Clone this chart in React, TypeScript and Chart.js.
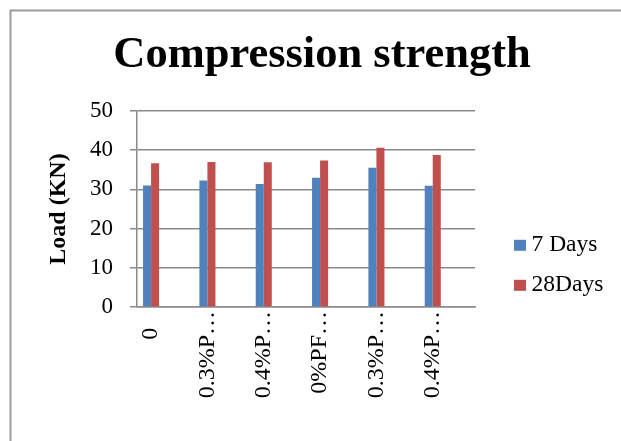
import { useEffect, useRef } from "react";
import { Chart, registerables } from "chart.js";

Chart.register(...registerables);

// Mix designs along the horizontal axis (labels shown truncated)
const categories = ["0", "0.3%P…", "0.4%P…", "0%PF…", "0.3%P…", "0.4%P…"];
// Load at failure (KN)
const days7 = [31.0, 32.3, 31.4, 33.0, 35.5, 30.9];
const days28 = [36.7, 37.0, 36.9, 37.4, 40.6, 38.8];

const seriesNames = ["7 Days", "28Days"];
const seriesColors = ["#4F81BD", "#C0504D"];
const yMin = 0;
const yMax = 50;
const yStep = 10;

const chartTitle = "Compression strength";
const yTitle = "Load (KN)";

const SERIF = '"Liberation Serif", "Times New Roman", serif';
const GRID = "#8a8a8a";

// Untruncated labels keep the room a trailing ellipsis would take
const ELLIPSIS_GAP = "\u2002\u2009";
const tickText = (label: string) => (label.endsWith("…") ? label : label + ELLIPSIS_GAP);

// Outer frame, title and the side legend
const decorPlugin = {
  id: "decor",
  beforeDraw(chart: Chart) {
    const { ctx } = chart;
    ctx.save();
    ctx.strokeStyle = "#9c9c9c";
    ctx.lineWidth = 2;
    ctx.beginPath();
    ctx.moveTo(10.5, 441);
    ctx.lineTo(10.5, 10.5);
    ctx.lineTo(621, 10.5);
    ctx.stroke();
    ctx.restore();
  },
  afterDraw(chart: Chart) {
    const { ctx } = chart;
    ctx.save();
    ctx.fillStyle = "#000";
    ctx.font = `bold 44.5px ${SERIF}`;
    ctx.textAlign = "center";
    ctx.textBaseline = "alphabetic";
    ctx.fillText(chartTitle, 322, 66.5);

    ctx.font = `23.5px ${SERIF}`;
    ctx.textAlign = "left";
    seriesNames.forEach((name, i) => {
      const cy = 245.3 + i * 40;
      ctx.fillStyle = seriesColors[i];
      ctx.fillRect(514, cy - 5.5, 12, 11);
      ctx.fillStyle = "#000";
      ctx.fillText(name, 531.5, cy + 6);
    });
    ctx.restore();
  },
};

export default function App() {
  const canvasRef = useRef<HTMLCanvasElement | null>(null);

  useEffect(() => {
    const canvas = canvasRef.current;
    if (!canvas) return;

    const toPoints = (vals: number[]) => vals.map((y, x) => ({ x, y }));

    const chart = new Chart(canvas, {
      type: "bar",
      data: {
        datasets: [
          {
            label: seriesNames[0],
            data: toPoints(days7),
            backgroundColor: seriesColors[0],
            borderWidth: 0,
          },
          {
            label: seriesNames[1],
            data: toPoints(days28),
            backgroundColor: seriesColors[1],
            borderWidth: 0,
          },
        ],
      },
      options: {
        responsive: false,
        animation: false,
        devicePixelRatio: 1,
        layout: { padding: { top: 111, right: 146, bottom: 0, left: 0 } },
        datasets: {
          bar: { categoryPercentage: 0.285, barPercentage: 1 },
        },
        plugins: {
          legend: { display: false },
          title: { display: false },
          tooltip: { enabled: false },
        },
        scales: {
          x: {
            type: "linear",
            offset: false,
            min: -0.25,
            max: 5.75,
            afterFit: (s: any) => {
              s.height = 134;
            },
            afterBuildTicks: (s: any) => {
              s.ticks = categories.map((_, i) => ({ value: i }));
            },
            grid: { display: false, drawTicks: false, tickLength: 0, offset: false },
            border: { display: true, color: GRID, width: 1.5 },
            ticks: {
              autoSkip: false,
              minRotation: 90,
              maxRotation: 90,
              padding: 4,
              color: "#000",
              font: { family: SERIF, size: 24 },
              callback: (v: any) => tickText(categories[Number(v)] ?? ""),
            },
          },
          y: {
            min: yMin,
            max: yMax,
            afterFit: (s: any) => {
              s.width = 137;
            },
            grid: {
              color: GRID,
              lineWidth: 1.5,
              drawTicks: true,
              tickLength: 7,
            },
            border: { display: true, color: GRID, width: 1.5 },
            ticks: {
              stepSize: yStep,
              padding: 17,
              color: "#000",
              font: { family: SERIF, size: 23 },
            },
            title: {
              display: true,
              text: yTitle,
              color: "#000",
              font: { family: SERIF, size: 24, weight: "bold" },
              padding: { top: 44, bottom: 0 },
            },
          },
        },
      },
      plugins: [decorPlugin],
    });

    return () => chart.destroy();
  }, []);

  return (
    <div style={{ position: "absolute", left: 0, top: 0, width: 621, height: 441, background: "#fff" }}>
      <canvas ref={canvasRef} width={621} height={441} style={{ display: "block" }} />
    </div>
  );
}
